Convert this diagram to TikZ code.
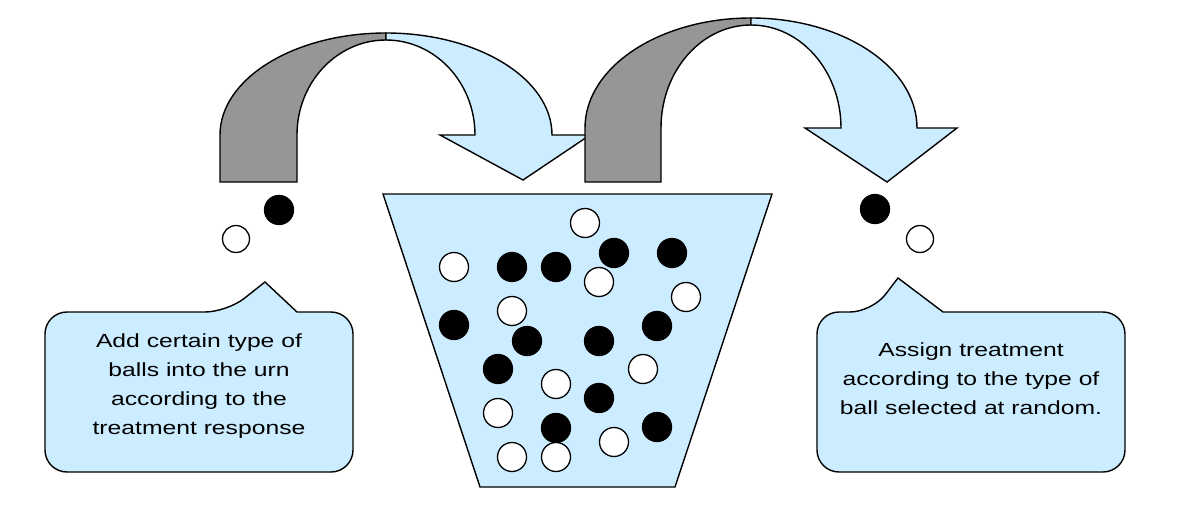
\documentclass[tikz,border=0pt]{standalone}
\usepackage{fontspec}
\setmainfont[FakeStretch=1.3]{Liberation Sans}
\definecolor{lblue}{HTML}{CCECFF}
\definecolor{agray}{HTML}{969696}
\begin{document}
\begin{tikzpicture}[x=1pt,y=-1pt,
  outline/.style={draw=black,line width=1.4pt,line join=miter},
  wball/.style={circle,draw=black,fill=white,line width=1.3pt,minimum size=29pt,inner sep=0pt},
  bball/.style={circle,draw=black,fill=black,line width=1.3pt,minimum size=29pt,inner sep=0pt},
  label/.style={align=center,font=\fontsize{19}{29}\selectfont,text=black,inner sep=0pt}]
\useasboundingbox[fill=white] (0,0) rectangle (1178,508);

% urn
\draw[outline,fill=lblue] (383,194) -- (772,194) -- (675,487) -- (480,487) -- cycle;

% arrow 1
\draw[outline,fill=agray] (220,182) -- (220,135)
  arc[start angle=180,end angle=270,x radius=166,y radius=102]
  -- (386,40)
  arc[start angle=270,end angle=180,x radius=89,y radius=95]
  -- (297,182) -- cycle;
\draw[outline,fill=lblue] (386,33)
  arc[start angle=270,end angle=360,x radius=166,y radius=102]
  -- (590,135) -- (523,180) -- (440,135) -- (475,135)
  arc[start angle=360,end angle=270,x radius=89,y radius=95]
  -- cycle;

% arrow 2
\draw[outline,fill=agray] (585,182) -- (585,128)
  arc[start angle=180,end angle=270,x radius=166,y radius=110]
  -- (751,25)
  arc[start angle=270,end angle=180,x radius=90,y radius=103]
  -- (661,182) -- cycle;
\draw[outline,fill=lblue] (751,18)
  arc[start angle=270,end angle=360,x radius=166,y radius=110]
  -- (957,128) -- (887,182) -- (805,128) -- (841,128)
  arc[start angle=360,end angle=270,x radius=90,y radius=103]
  -- cycle;

% balls in urn
\node[wball] (w1) at (585,223) {};
\node[wball] (w2) at (454,267) {};
\node[wball] (w3) at (599,282) {};
\node[wball] (w4) at (686,297) {};
\node[wball] (w5) at (512,311) {};
\node[wball] (w6) at (643,369) {};
\node[wball] (w7) at (556,384) {};
\node[wball] (w8) at (498,413) {};
\node[wball] (w9) at (614,442) {};
\node[wball] (w10) at (512,457) {};
\node[bball] (b1) at (512,267) {};
\node[bball] (b2) at (556,267) {};
\node[bball] (b3) at (614,253) {};
\node[bball] (b4) at (672,253) {};
\node[bball] (b5) at (454,325) {};
\node[bball] (b6) at (527,341) {};
\node[bball] (b7) at (599,341) {};
\node[bball] (b8) at (657,326) {};
\node[bball] (b9) at (498,369) {};
\node[bball] (b10) at (599,398) {};
\node[bball] (b11) at (556,428) {};
\node[bball] (b12) at (657,427) {};
\node[wball] (w11) at (556,457) {};

% balls outside
\node[bball] (lb) at (279,210) {};
\node[wball,minimum size=27pt] (lw) at (236,239) {};
\node[bball] (rb) at (875,209) {};
\node[wball,minimum size=27pt] (rw) at (920,239) {};

% callouts
\draw[outline,fill=lblue] (45,400) [rounded corners=22pt] -- (45,312) -- (227,312)
  [sharp corners] -- (265,282) -- (297,312) [rounded corners=22pt]
  -- (353,312) -- (353,472) -- (45,472) -- cycle;
\draw[outline,fill=lblue] (817,400) [rounded corners=22pt] -- (817,312) -- (872,312)
  [sharp corners] -- (898,278) -- (943,312) [rounded corners=22pt]
  -- (1125,312) -- (1125,472) -- (817,472) -- cycle;

\node[label] (lt) at (199,386) {Add certain type of\\balls into the urn\\according to the\\treatment response};
\node[label] (rt) at (971,379) {Assign treatment\\according to the type of\\ball selected at random.};
\end{tikzpicture}
\end{document}
